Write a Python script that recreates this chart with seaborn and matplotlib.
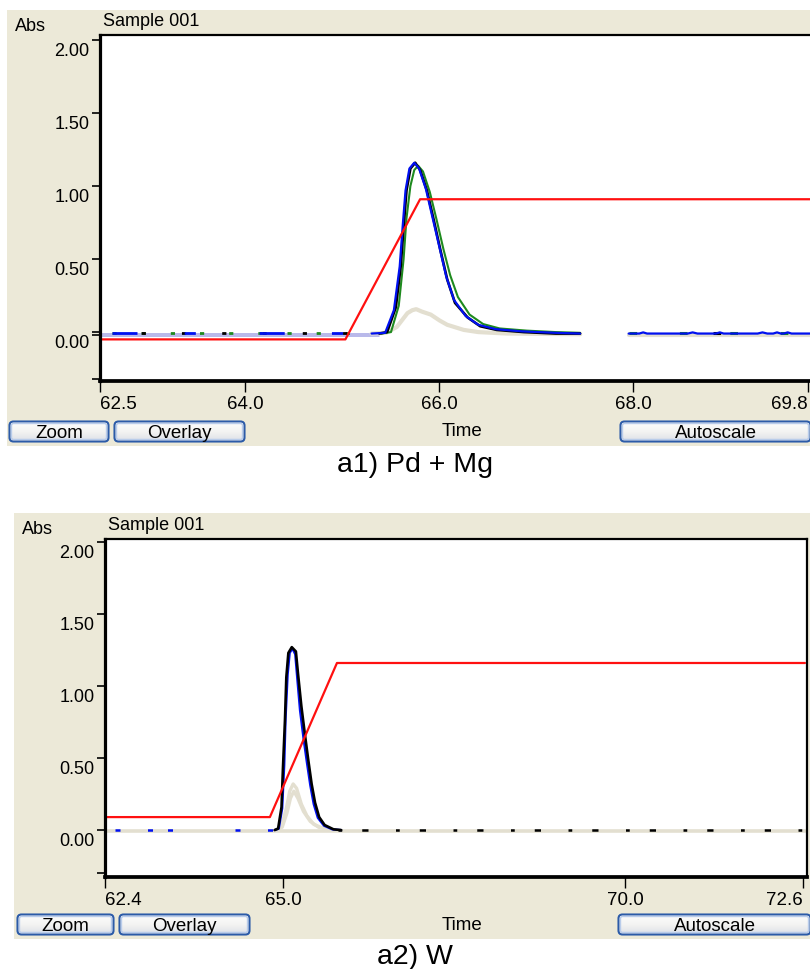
import numpy as np
import matplotlib
matplotlib.use("Agg")
import matplotlib.pyplot as plt
import matplotlib.transforms as mtransforms
import seaborn as sns
from matplotlib.patches import Rectangle, FancyBboxPatch
from matplotlib.colors import LinearSegmentedColormap

# ---------------------------------------------------------------- data
# a1) Pd + Mg  (time in s, absorbance)
A1_RED_T = [62.5, 65.03, 65.80, 69.82]
A1_RED_A = [-0.05, -0.05, 0.91, 0.91]

A1_BLACK_T = [65.38, 65.46, 65.55, 65.60, 65.63, 65.66, 65.70, 65.75, 65.80, 65.87,
              65.94, 66.01, 66.08, 66.16, 66.29, 66.42, 66.59, 66.87, 67.20, 67.45]
A1_BLACK_A = [-0.01, 0.00, 0.17, 0.45, 0.72, 0.97, 1.12, 1.16, 1.11, 0.97,
              0.77, 0.56, 0.36, 0.20, 0.10, 0.04, 0.015, 0.0, -0.01, -0.01]

A1_BLUE_T = [65.30, 65.44, 65.53, 65.59, 65.62, 65.65, 65.69, 65.74, 65.79, 65.86,
             65.93, 66.00, 66.07, 66.15, 66.27, 66.40, 66.58, 66.85, 67.20, 67.45]
A1_BLUE_A = [-0.01, -0.005, 0.15, 0.45, 0.72, 0.97, 1.12, 1.16, 1.12, 0.98,
             0.78, 0.58, 0.38, 0.22, 0.11, 0.05, 0.02, 0.005, -0.005, -0.01]

A1_GREEN_T = [65.40, 65.50, 65.58, 65.63, 65.66, 65.70, 65.74, 65.78, 65.83, 65.90,
              65.97, 66.04, 66.11, 66.19, 66.31, 66.45, 66.62, 66.90, 67.20, 67.45]
A1_GREEN_A = [-0.01, 0.00, 0.18, 0.50, 0.78, 1.00, 1.11, 1.14, 1.10, 0.96,
              0.77, 0.57, 0.39, 0.24, 0.12, 0.055, 0.025, 0.01, 0.0, -0.005]

A1_GRAY_T = [65.30, 65.45, 65.56, 65.67, 65.72, 65.76, 65.82, 65.91, 66.00, 66.08,
             66.25, 66.40, 66.70, 67.00, 67.45]
A1_GRAY_A = [-0.01, -0.005, 0.035, 0.13, 0.15, 0.157, 0.14, 0.12, 0.08, 0.05,
             0.015, 0.0, -0.01, -0.012, -0.015]

A1_LAV_T = [62.5, 65.38]
A1_LAV_UPPER = [-0.01, -0.01]
A1_LAV_LOWER = [-0.03, -0.03]

A1_LEFT_BASE_T = [62.62, 65.30]
A1_LEFT_BASE_A = [-0.004, -0.004]

A1_RIGHT_T = [67.95, 68.06, 68.10, 68.14, 68.56, 68.61, 68.66, 68.85, 68.89, 68.93,
              69.28, 69.33, 69.38, 69.44, 69.48, 69.52, 69.55, 69.59, 69.63, 69.82]
A1_RIGHT_A = [-0.01, -0.01, -0.002, -0.01, -0.01, -0.002, -0.01, -0.01, -0.002, -0.01,
              -0.01, -0.002, -0.01, -0.01, -0.002, -0.01, -0.01, -0.002, -0.01, -0.01]
A1_RIGHT_GRAY_T = [67.95, 69.82]
A1_RIGHT_GRAY_A = [-0.018, -0.018]
A1_RIGHT_SPECK_A = [-0.004, -0.004]

A1_XTICKS = [62.5, 64.0, 66.0, 68.0, 69.8]
A1_XLABELS = ["62.5", "64.0", "66.0", "68.0", "69.8"]

# a2) W
A2_RED_T = [62.4, 64.81, 65.79, 72.63]
A2_RED_A = [0.09, 0.09, 1.16, 1.16]

A2_BLACK_T = [64.88, 64.93, 64.98, 65.00, 65.03, 65.05, 65.08, 65.13, 65.19, 65.22,
              65.27, 65.32, 65.37, 65.42, 65.47, 65.53, 65.61, 65.74, 65.85]
A2_BLACK_A = [0.0, 0.01, 0.16, 0.42, 0.76, 1.06, 1.23, 1.27, 1.24, 1.09,
              0.86, 0.67, 0.49, 0.32, 0.19, 0.09, 0.035, 0.005, 0.0]

A2_BLUE_T = [64.88, 64.94, 64.99, 65.02, 65.04, 65.07, 65.10, 65.14, 65.18, 65.21,
             65.25, 65.30, 65.35, 65.40, 65.45, 65.51, 65.60, 65.72, 65.85]
A2_BLUE_A = [0.0, 0.01, 0.15, 0.45, 0.78, 1.08, 1.23, 1.26, 1.22, 1.05,
             0.83, 0.64, 0.47, 0.31, 0.18, 0.085, 0.03, 0.005, 0.0]

A2_GRAY1_T = [64.90, 64.98, 65.05, 65.10, 65.15, 65.20, 65.27, 65.35, 65.45, 65.60, 65.75]
A2_GRAY1_A = [0.0, 0.03, 0.15, 0.27, 0.32, 0.29, 0.18, 0.10, 0.04, 0.01, 0.0]
A2_GRAY2_T = [64.90, 64.99, 65.06, 65.11, 65.16, 65.22, 65.30, 65.40, 65.52, 65.70]
A2_GRAY2_A = [0.0, 0.02, 0.12, 0.22, 0.27, 0.22, 0.13, 0.06, 0.02, 0.0]

A2_BASE_T = [62.4, 72.63]
A2_GRAY_BASE_A = [-0.005, -0.005]
A2_BLACK_BASE_T = [65.80, 72.60]
A2_BLACK_BASE_A = [0.0, 0.0]
A2_BLUE_BASE_T = [62.55, 64.85]
A2_BLUE_BASE_A = [0.0, 0.0]

A2_XTICKS = [62.4, 65.0, 70.0, 72.6]
A2_XLABELS = ["62.4", "65.0", "70.0", "72.6"]

Y_TICKS = [2.0, 1.5, 1.0, 0.5, 0.0]
Y_LABELS = ["2.00", "1.50", "1.00", "0.50", "0.00"]

# ---------------------------------------------------------------- style
sns.set_theme(style="ticks")
plt.rcParams["font.family"] = ["Liberation Sans", "DejaVu Sans"]
plt.rcParams["text.color"] = "black"

W, H = 810, 969
BEIGE = "#ECE9D8"
RED, BLUE, BLACK, GREEN = "#FF1010", "#0010F0", "#000000", "#1E8A1E"
GRAY, LAV = "#E3DFD0", "#A4A4E4"

fig = plt.figure(figsize=(W / 100, H / 100), dpi=100)
fig.patch.set_facecolor("white")

# pixel canvas for window frames, buttons and captions
canvas = fig.add_axes([0, 0, 1, 1], zorder=0)
canvas.axis("off")

btn_cmap = LinearSegmentedColormap.from_list("btn", ["#D9DCE6", "#F4F4F2", "#FFFFFF"])


def button(x0, y0, x1, y1, label):
    outer = FancyBboxPatch((x0 + 1.5, y0 + 1.5), x1 - x0 - 3, y1 - y0 - 3,
                           boxstyle="round,pad=0,rounding_size=4",
                           fc="none", ec="#2C5BA8", lw=1.5, zorder=3)
    canvas.add_patch(outer)
    inner = FancyBboxPatch((x0 + 3.5, y0 + 3.5), x1 - x0 - 7, y1 - y0 - 7,
                           boxstyle="round,pad=0,rounding_size=2",
                           fc="none", ec="#B9CCEA", lw=1.0, zorder=3)
    canvas.add_patch(inner)
    grad = np.linspace(1, 0, 40).reshape(-1, 1)
    im = canvas.imshow(grad, cmap=btn_cmap, extent=[x0, x1, y1, y0],
                       aspect="auto", origin="upper", zorder=2)
    im.set_clip_path(outer)
    txt = canvas.text((x0 + x1) / 2, (y0 + y1) / 2 + 2, label, ha="center",
                      va="center", fontsize=13.5, color="black", zorder=4)
    txt.set_clip_path(outer)


def window(frame, buttons, time_xy, abs_xy, sample_xy, caption, caption_xy):
    x0, y0, x1, y1 = frame
    canvas.add_patch(Rectangle((x0, y0), x1 - x0, y1 - y0, fc=BEIGE, ec="none", zorder=1))
    for b in buttons:
        button(*b)
    canvas.text(*time_xy, "Time", ha="center", va="center", fontsize=13.5, zorder=4)
    canvas.text(*abs_xy, "Abs", ha="left", va="center", fontsize=13, zorder=4)
    canvas.text(*sample_xy, "Sample 001", ha="left", va="center", fontsize=13, zorder=4)
    canvas.text(*caption_xy, caption, ha="center", va="center", fontsize=20.5, zorder=4)


def plot_axes(px, xlim, ylim, xticks, xlabels, minor_y, right_spine):
    left, top, right, bottom = px
    ax = fig.add_axes([left / W, 1 - bottom / H, (right - left) / W, (bottom - top) / H],
                      zorder=2)
    ax.set_facecolor("white")
    ax.set_xlim(*xlim)
    ax.set_ylim(*ylim)
    for side, lw in (("left", 2.3), ("bottom", 2.7), ("top", 1.6), ("right", 1.6)):
        ax.spines[side].set_color("black")
        ax.spines[side].set_linewidth(lw)
    ax.spines["right"].set_visible(right_spine)
    ax.set_yticks(Y_TICKS)
    ax.set_yticklabels(Y_LABELS)
    ax.set_yticks(minor_y, minor=True)
    ax.set_xticks(xticks)
    ax.set_xticklabels(xlabels)
    ax.tick_params(axis="y", which="both", direction="out", length=6, width=1.2,
                   pad=1.5, labelsize=13, colors="black")
    ax.tick_params(axis="x", direction="out", length=8, width=1.0, pad=2.5,
                   labelsize=13.5, colors="black")
    shift = mtransforms.ScaledTranslation(0, -3 / 100, fig.dpi_scale_trans)
    for lbl in ax.get_yticklabels():
        lbl.set_verticalalignment("top")
        lbl.set_transform(lbl.get_transform() + shift)
    xl = ax.get_xticklabels()
    xl[0].set_horizontalalignment("left")
    xl[-1].set_horizontalalignment("right")
    ax.set_xlabel("")
    ax.set_ylabel("")
    return ax


def line(ax, t, a, color, lw, **kw):
    sns.lineplot(x=t, y=a, ax=ax, color=color, linewidth=lw, estimator=None,
                 sort=False, legend=False, **kw)


# ---------------------------------------------------------------- a1) Pd + Mg
window((7, 10, 810, 446),
       [(8, 420, 110, 443, "Zoom"), (113, 420, 246, 443, "Overlay"),
        (619, 420, 812, 443, "Autoscale")],
       (462, 432), (15, 26), (103, 21), "a1) Pd + Mg", (415, 465))

ax1 = plot_axes((100, 35, 810, 381), (62.5, 69.82), (-0.335, 2.035),
                A1_XTICKS, A1_XLABELS, [-0.32, -0.02], right_spine=False)

line(ax1, A1_LAV_T, A1_LAV_UPPER, LAV, 1.1)
line(ax1, A1_LAV_T, A1_LAV_LOWER, LAV, 1.1)
line(ax1, A1_GRAY_T, A1_GRAY_A, GRAY, 3.0)
line(ax1, A1_RIGHT_GRAY_T, A1_RIGHT_GRAY_A, GRAY, 3.0)
line(ax1, A1_LEFT_BASE_T, A1_LEFT_BASE_A, GREEN, 2.0, linestyle=(0, (1.5, 9)))
line(ax1, A1_LEFT_BASE_T, A1_LEFT_BASE_A, BLACK, 2.0, linestyle=(4, (1.5, 13)))
line(ax1, A1_LEFT_BASE_T, A1_LEFT_BASE_A, BLUE, 2.0, linestyle=(0, (9, 17, 4, 23)))
line(ax1, A1_GREEN_T, A1_GREEN_A, GREEN, 1.5)
line(ax1, A1_BLACK_T, A1_BLACK_A, BLACK, 1.9)
line(ax1, A1_BLUE_T, A1_BLUE_A, BLUE, 1.6)
line(ax1, A1_RIGHT_GRAY_T, A1_RIGHT_SPECK_A, GREEN, 2.2, linestyle=(0, (2.5, 14)))
line(ax1, A1_RIGHT_GRAY_T, A1_RIGHT_SPECK_A, BLACK, 2.2, linestyle=(6, (2.5, 31)))
line(ax1, A1_RIGHT_T, A1_RIGHT_A, BLUE, 1.6)
line(ax1, A1_RED_T, A1_RED_A, RED, 1.6)

# ---------------------------------------------------------------- a2) W
window((14, 513, 810, 939),
       [(16, 913, 115, 936, "Zoom"), (118, 913, 251, 936, "Overlay"),
        (617, 913, 812, 936, "Autoscale")],
       (462, 925), (22, 529), (108, 525), "a2) W", (415, 957))

ax2 = plot_axes((105, 539, 807, 877), (62.4, 72.66), (-0.326, 2.021),
                A2_XTICKS, A2_XLABELS, [-0.30], right_spine=True)

line(ax2, A2_BASE_T, A2_GRAY_BASE_A, GRAY, 2.6)
line(ax2, A2_GRAY1_T, A2_GRAY1_A, GRAY, 2.4)
line(ax2, A2_GRAY2_T, A2_GRAY2_A, GRAY, 2.4)
line(ax2, A2_BLUE_BASE_T, A2_BLUE_BASE_A, BLUE, 1.8, linestyle=(0, (2, 11, 2, 6, 2, 25)))
line(ax2, A2_BLACK_BASE_T, A2_BLACK_BASE_A, BLACK, 1.8, linestyle=(0, (1.5, 8, 2.5, 11)))
line(ax2, A2_BLUE_T, A2_BLUE_A, BLUE, 1.6)
line(ax2, A2_BLACK_T, A2_BLACK_A, BLACK, 1.9)
line(ax2, A2_RED_T, A2_RED_A, RED, 1.6)

canvas.set_xlim(0, W)
canvas.set_ylim(H, 0)

fig.savefig("out.png", dpi=100, facecolor="white")
